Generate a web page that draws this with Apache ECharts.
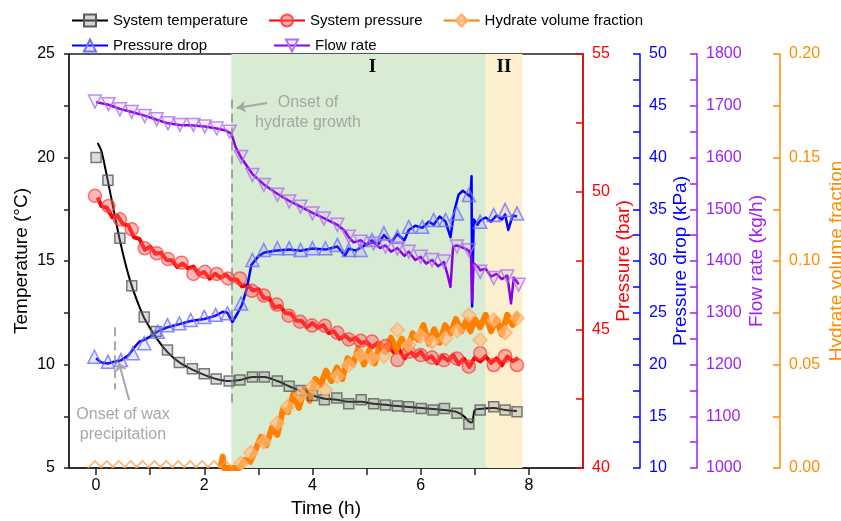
<!DOCTYPE html>
<html>
<head>
<meta charset="utf-8">
<script src="https://cdn.jsdelivr.net/npm/echarts@6/dist/echarts.min.js"></script>
<style>
html, body { margin: 0; padding: 0; background: #fff; }
#chart { width: 841px; height: 521px; }
</style>
</head>
<body>
<div id="chart"></div>
<script>
// ---- data (time in h) ----
// system temperature, markers
const tempTime = [0, 0.22, 0.44, 0.66, 0.89, 1.11, 1.32, 1.54, 1.78, 2.0, 2.22, 2.46, 2.66, 2.89, 3.11, 3.35, 3.57, 3.79, 4.0, 4.22, 4.45, 4.67, 4.9, 5.13, 5.35, 5.57, 5.78, 6.01, 6.23, 6.44, 6.67, 6.89, 7.1, 7.35, 7.56, 7.78]
const tempValue = [20.0, 18.9, 16.1, 13.8, 12.3, 11.6, 10.7, 10.1, 9.8, 9.55, 9.3, 9.2, 9.25, 9.4, 9.4, 9.2, 8.95, 8.75, 8.5, 8.3, 8.38, 8.1, 8.3, 8.1, 8.04, 8.0, 7.96, 7.87, 7.8, 7.87, 7.64, 7.13, 7.8, 7.96, 7.8, 7.72]
// system temperature, line
const tempLineTime = [0.03, 0.1, 0.2, 0.3, 0.44, 0.55, 0.66, 0.8, 0.9, 1.11, 1.32, 1.54, 1.78, 2.0, 2.22, 2.46, 2.66, 2.89, 3.11, 3.35, 3.57, 3.79, 4.0, 4.22, 4.45, 4.67, 4.9, 5.13, 5.35, 5.57, 5.78, 6.01, 6.23, 6.44, 6.67, 6.8, 6.89, 6.95, 7.0, 7.1, 7.35, 7.56, 7.78]
const tempLineValue = [20.7, 20.3, 19.1, 17.8, 16.0, 14.8, 13.8, 12.8, 12.2, 11.3, 10.6, 10.1, 9.75, 9.5, 9.3, 9.2, 9.25, 9.4, 9.4, 9.2, 8.95, 8.7, 8.5, 8.35, 8.3, 8.2, 8.2, 8.1, 8.05, 8.0, 7.95, 7.9, 7.85, 7.8, 7.7, 7.5, 7.25, 7.2, 7.8, 7.85, 7.9, 7.8, 7.75]

// system pressure (bar)
const presTime = [-0.02, 0.23, 0.44, 0.66, 0.9, 1.12, 1.33, 1.58, 1.8, 2.01, 2.23, 2.44, 2.66, 2.88, 3.1, 3.34, 3.56, 3.77, 3.99, 4.23, 4.46, 4.67, 4.89, 5.1, 5.35, 5.57, 5.78, 6.0, 6.21, 6.43, 6.67, 6.89, 7.1, 7.35, 7.56, 7.78]
const presValue = [49.86, 49.49, 49.01, 48.65, 47.96, 47.78, 47.57, 47.44, 47.03, 47.11, 47.03, 46.87, 46.87, 46.42, 46.25, 45.92, 45.52, 45.3, 45.16, 45.15, 44.9, 44.66, 44.61, 44.58, 44.42, 43.91, 44.21, 44.09, 44.0, 43.91, 43.97, 43.67, 44.16, 43.73, 44.06, 43.73]
const presLineTime = [0.03, 0.1, 0.2, 0.3, 0.4, 0.5, 0.6, 0.7, 0.8, 0.9, 1.0, 1.1, 1.2, 1.3, 1.4, 1.5, 1.6, 1.7, 1.8, 1.9, 2.0, 2.1, 2.2, 2.3, 2.4, 2.5, 2.6, 2.7, 2.8, 2.9, 3.0, 3.1, 3.2, 3.3, 3.4, 3.5, 3.6, 3.7, 3.8, 3.9, 4.0, 4.1, 4.2, 4.3, 4.4, 4.5, 4.6, 4.7, 4.8, 4.9, 5.0, 5.1, 5.2, 5.3, 5.4, 5.5, 5.6, 5.7, 5.8, 5.9, 6.0, 6.1, 6.2, 6.3, 6.4, 6.5, 6.6, 6.7, 6.8, 6.9, 7.0, 7.1, 7.2, 7.3, 7.4, 7.5, 7.6, 7.7, 7.8]
const presLineValue = [49.8, 49.49, 49.43, 49.08, 49.13, 48.83, 48.78, 48.36, 48.3, 47.91, 48.02, 47.76, 47.8, 47.54, 47.53, 47.28, 47.41, 47.23, 47.3, 47.01, 47.1, 46.86, 47.04, 46.89, 47.0, 46.82, 46.83, 46.58, 46.63, 46.43, 46.48, 46.16, 46.15, 45.81, 45.87, 45.61, 45.6, 45.34, 45.33, 45.1, 45.25, 45.08, 45.18, 44.89, 44.95, 44.68, 44.8, 44.63, 44.72, 44.52, 44.58, 44.38, 44.53, 44.38, 44.48, 44.19, 44.3, 43.97, 44.23, 44.04, 44.22, 43.94, 44.05, 43.79, 44.07, 43.89, 44.1, 43.76, 43.96, 43.66, 44.0, 43.86, 44.05, 43.81, 43.97, 43.72, 44.04, 43.87, 43.98]

// pressure drop (kPa)
const dropTime = [-0.03, 0.22, 0.46, 0.68, 0.89, 1.14, 1.32, 1.54, 1.75, 2.0, 2.21, 2.43, 2.68, 2.89, 3.1, 3.35, 3.57, 3.78, 4.0, 4.24, 4.46, 4.67, 4.89, 5.1, 5.32, 5.57, 5.78, 6.03, 6.24, 6.46, 6.67, 6.89, 7.1, 7.35, 7.56, 7.78]
const dropValue = [20.75, 20.27, 20.43, 21.08, 22.05, 23.17, 23.8, 23.98, 24.3, 24.6, 24.8, 24.95, 25.9, 30.1, 31.06, 31.23, 31.23, 31.06, 31.23, 31.23, 31.55, 31.06, 31.06, 32.03, 32.68, 32.35, 33.3, 33.3, 33.96, 33.96, 34.6, 36.38, 33.8, 34.44, 34.93, 34.6]
const dropLineTime = [0.0, 0.1, 0.22, 0.35, 0.46, 0.6, 0.7, 0.8, 0.9, 1.0, 1.14, 1.32, 1.54, 1.75, 2.0, 2.2, 2.35, 2.43, 2.52, 2.62, 2.7, 2.78, 2.87, 2.99, 3.1, 3.3, 3.57, 3.78, 4.0, 4.24, 4.46, 4.6, 4.67, 4.8, 4.89, 5.0, 5.1, 5.2, 5.32, 5.45, 5.57, 5.7, 5.78, 5.9, 6.03, 6.15, 6.24, 6.35, 6.46, 6.55, 6.62, 6.7, 6.78, 6.85, 6.92, 6.94, 6.95, 6.98, 7.05, 7.1, 7.2, 7.3, 7.4, 7.5, 7.56, 7.62, 7.7, 7.78]
const dropLineValue = [20.6, 20.2, 20.1, 20.3, 20.4, 20.9, 21.6, 22.2, 22.4, 22.7, 23.2, 23.6, 23.9, 24.2, 24.4, 24.7, 25.1, 25.0, 24.1, 25.0, 25.8, 27.2, 29.6, 30.4, 30.8, 31.0, 31.1, 31.0, 31.2, 31.1, 31.4, 30.5, 31.2, 31.0, 31.3, 31.6, 32.0, 31.5, 32.5, 31.8, 32.6, 32.0, 33.0, 33.4, 33.2, 33.8, 33.5, 34.3, 33.8, 32.3, 34.8, 36.4, 36.8, 36.5, 36.2, 38.2, 25.6, 34.0, 33.5, 33.9, 34.2, 33.8, 34.4, 34.0, 34.5, 33.0, 34.4, 34.3]

// flow rate (kg/h)
const flowTime = [-0.02, 0.23, 0.44, 0.66, 0.9, 1.12, 1.33, 1.55, 1.8, 2.01, 2.23, 2.47, 2.68, 2.89, 3.1, 3.35, 3.57, 3.78, 4.0, 4.21, 4.46, 4.67, 4.89, 5.13, 5.35, 5.57, 5.78, 6.0, 6.21, 6.43, 6.67, 6.89, 7.1, 7.35, 7.6, 7.81]
const flowValue = [1708, 1703, 1693, 1688, 1680, 1674, 1666, 1663, 1663, 1660, 1656, 1650, 1601, 1566, 1547, 1528, 1515, 1505, 1492, 1482, 1470, 1447, 1437, 1434, 1428, 1424, 1418, 1408, 1402, 1399, 1428, 1421, 1379, 1367, 1370, 1354]
const flowLineTime = [0.0, 0.23, 0.44, 0.66, 0.9, 1.12, 1.33, 1.55, 1.8, 2.01, 2.23, 2.4, 2.5, 2.58, 2.68, 2.89, 3.1, 3.35, 3.57, 3.78, 4.0, 4.21, 4.46, 4.6, 4.67, 4.76, 4.89, 5.0, 5.13, 5.25, 5.35, 5.45, 5.57, 5.7, 5.78, 5.9, 6.0, 6.1, 6.21, 6.32, 6.43, 6.5, 6.55, 6.6, 6.67, 6.8, 6.89, 6.93, 6.95, 6.98, 7.05, 7.1, 7.2, 7.3, 7.4, 7.5, 7.6, 7.67, 7.72, 7.81]
const flowLineValue = [1707, 1702, 1694, 1688, 1681, 1673, 1666, 1663, 1662, 1660, 1656, 1652, 1646, 1620, 1600, 1568, 1548, 1530, 1516, 1505, 1493, 1483, 1470, 1458, 1446, 1436, 1440, 1432, 1436, 1425, 1430, 1418, 1425, 1410, 1418, 1402, 1408, 1395, 1402, 1390, 1398, 1372, 1350, 1428, 1430, 1425, 1420, 1410, 1322, 1395, 1390, 1382, 1385, 1370, 1375, 1365, 1372, 1318, 1368, 1355]

// hydrate volume fraction
const hydTime = [-0.02, 0.2, 0.42, 0.64, 0.86, 1.08, 1.3, 1.52, 1.74, 1.96, 2.18, 2.4, 2.68, 2.86, 3.1, 3.35, 3.54, 3.78, 4.0, 4.24, 4.46, 4.67, 4.89, 5.1, 5.32, 5.57, 5.78, 6.0, 6.21, 6.46, 6.67, 6.89, 7.1, 7.35, 7.56, 7.78]
const hydValue = [0, 0, 0, 0, 0, 0, 0, 0, 0, 0, 0, 0, 0.0023, 0.0074, 0.0127, 0.0216, 0.0296, 0.0353, 0.0393, 0.0377, 0.0444, 0.0498, 0.0546, 0.053, 0.0541, 0.0667, 0.0594, 0.0638, 0.061, 0.0626, 0.0663, 0.0739, 0.0618, 0.0715, 0.0654, 0.0723]
const hydLineTime = [2.3, 2.34, 2.36, 2.5, 2.55, 2.65, 2.75, 2.85, 2.95, 3.05, 3.15, 3.25, 3.35, 3.45, 3.55, 3.65, 3.75, 3.85, 3.95, 4.05, 4.15, 4.25, 4.35, 4.45, 4.55, 4.65, 4.75, 4.85, 4.95, 5.05, 5.15, 5.25, 5.35, 5.45, 5.55, 5.65, 5.75, 5.85, 5.95, 6.05, 6.15, 6.25, 6.35, 6.45, 6.55, 6.65, 6.75, 6.85, 6.92, 7.0, 7.1, 7.2, 7.3, 7.4, 7.5, 7.6, 7.7, 7.8]
const hydLineValue = [0, 0.0055, 0, 0, 0, 0, 0.004, 0.003, 0.009, 0.015, 0.011, 0.0195, 0.016, 0.028, 0.027, 0.036, 0.029, 0.038, 0.0325, 0.043, 0.04, 0.047, 0.042, 0.0485, 0.043, 0.053, 0.05, 0.058, 0.05, 0.057, 0.0505, 0.06, 0.056, 0.063, 0.057, 0.0625, 0.057, 0.065, 0.062, 0.069, 0.06, 0.067, 0.0605, 0.069, 0.065, 0.072, 0.066, 0.0715, 0.066, 0.072, 0.068, 0.074, 0.066, 0.072, 0.0645, 0.074, 0.069, 0.075]

// stages and ticks
const stageI = [2.5, 7.2]
const stageII = [7.2, 7.88]
const xTicks = [0, 1, 2, 3, 4, 5, 6, 7, 8]
const xLabels = [0, 2, 4, 6, 8]

const zip = (a, b) => a.map((t, i) => [t, b[i]])

let chart = echarts.init(document.getElementById('chart'))

const font = 'Arial'
const gray = '#a6a6a6'

function rightAxis(name, color, min, max, interval, offset, nameGap, fmt) {
    return {
        type: 'value', position: 'right', offset: offset,
        min: min, max: max, interval: interval,
        name: name, nameLocation: 'middle', nameGap: nameGap, nameRotate: 90, nameMoveOverlap: false,
        nameTextStyle: {color: color, fontSize: 19, fontFamily: font},
        axisLine: {show: true, onZero: false, lineStyle: {color: color, width: 1.5}},
        axisTick: {show: true, inside: true, length: 7, lineStyle: {color: color, width: 1.5}},
        minorTick: {show: true, splitNumber: 2, length: 7, lineStyle: {color: color, width: 1.5}},
        axisLabel: {color: color, fontSize: 16, fontFamily: font, margin: 9, formatter: fmt || (v => String(v))},
        splitLine: {show: false}
    }
}

const lineSeries = (name, yIdx, data, color, width, symbol, size, itemStyle, extra) => Object.assign({
    name: name, type: 'line', yAxisIndex: yIdx, data: data,
    showSymbol: false, symbol: symbol, symbolSize: size,
    lineStyle: {color: color, width: width, join: 'round'}, itemStyle: itemStyle,
    z: 3, animation: false
}, extra || {})

const markSeries = (name, yIdx, data, symbol, size, itemStyle, rotate) => ({
    name: name, type: 'scatter', yAxisIndex: yIdx, data: data,
    symbol: symbol, symbolSize: size, symbolRotate: rotate || 0,
    itemStyle: itemStyle, z: 4, animation: false
})

const tempStyle = {color: 'rgba(150,150,150,0.4)', borderColor: '#5a5a5a', borderWidth: 1.5}
const presStyle = {color: 'rgba(255,95,95,0.55)', borderColor: 'rgba(255,60,60,0.9)', borderWidth: 1.5}
const dropStyle = {color: 'rgba(120,120,255,0.2)', borderColor: '#6f6fff', borderWidth: 1.5}
const flowStyle = {color: 'rgba(190,120,255,0.15)', borderColor: '#b070f0', borderWidth: 1.5}
const hydStyle = {color: 'rgba(255,190,130,0.8)', borderColor: '#ffad66', borderWidth: 1.5}

// zero-level hydrate markers are cut by the axis: only the upper half shows
const hydMarks = zip(hydTime, hydValue).map(p => p[1] === 0
    ? {value: p, symbol: 'path://M0,10L10,0L20,10', symbolSize: [14, 7], symbolOffset: [0, '-50%'],
       itemStyle: {color: 'rgba(0,0,0,0)', borderColor: '#ffa050', borderWidth: 1.5}}
    : p)

let option = {
    backgroundColor: '#fff',
    animation: false,
    grid: {left: 69, right: 258, top: 54, bottom: 53, outerBoundsMode: 'none', containLabel: false,
           show: true, borderColor: '#222', borderWidth: 1.5, backgroundColor: 'transparent'},
    legend: [
        {left: 66, top: 8, itemGap: 20, itemWidth: 36, itemHeight: 15, lineStyle: {width: 2},
         textStyle: {fontSize: 15, fontFamily: font, color: '#000'},
         data: ['System temperature', 'System pressure', 'Hydrate volume fraction']},
        {left: 66, top: 33, itemWidth: 36, itemHeight: 15, lineStyle: {width: 2},
         textStyle: {fontSize: 15, fontFamily: font, color: '#000'}, data: ['Pressure drop']},
        {left: 268, top: 33, itemWidth: 36, itemHeight: 15, lineStyle: {width: 2},
         textStyle: {fontSize: 15, fontFamily: font, color: '#000'}, data: ['Flow rate']}
    ],
    xAxis: {
        type: 'value', min: -0.5, max: 9,
        name: 'Time (h)', nameLocation: 'middle', nameGap: 28,
        nameTextStyle: {color: '#000', fontSize: 19, fontFamily: font},
        axisLine: {onZero: false, lineStyle: {color: '#222', width: 1.5}},
        axisTick: {show: true, length: 7, customValues: xTicks, lineStyle: {color: '#222', width: 1.5}},
        axisLabel: {customValues: xLabels, color: '#000', fontSize: 16, fontFamily: font, margin: 10},
        splitLine: {show: false}
    },
    yAxis: [
        {
            type: 'value', position: 'left', min: 5, max: 25, interval: 5,
            name: 'Temperature (°C)', nameLocation: 'middle', nameGap: 38, nameRotate: 90, nameMoveOverlap: false,
            nameTextStyle: {color: '#000', fontSize: 19, fontFamily: font},
            axisLine: {show: true, onZero: false, lineStyle: {color: '#222', width: 1.5}},
            axisTick: {show: true, length: 5, lineStyle: {color: '#222', width: 1.5}},
            minorTick: {show: true, splitNumber: 2, length: 5, lineStyle: {color: '#222', width: 1.5}},
            axisLabel: {color: '#000', fontSize: 16, fontFamily: font, margin: 14},
            splitLine: {show: false}
        },
        rightAxis('Pressure (bar)', '#ff0000', 40, 55, 5, 0, 31),
        rightAxis('Pressure drop (kPa)', '#0000ff', 10, 50, 5, 57, 31),
        rightAxis('Flow rate (kg/h)', '#a020f0', 1000, 1800, 100, 114, 50),
        rightAxis('Hydrate volume fraction', '#ff8c00', 0, 0.2, 0.05, 197, 47, v => v.toFixed(2))
    ],
    series: [
        {
            type: 'line', data: [], z: 1, silent: true,
            markArea: {
                silent: true,
                label: {show: true, position: 'insideTop', distance: 4, color: '#000',
                        fontFamily: 'Liberation Serif', fontWeight: 'bold', fontSize: 19},
                data: [
                    [{name: 'I', xAxis: stageI[0], itemStyle: {color: '#d8ebd3'}, label: {offset: [14, 0]}}, {xAxis: stageI[1]}],
                    [{name: 'II', xAxis: stageII[0], itemStyle: {color: '#fcefcd'}}, {xAxis: stageII[1]}]
                ]
            },
            markLine: {
                silent: true, symbol: 'none', label: {show: false},
                lineStyle: {color: '#8c8c8c', type: [9, 5], width: 1.5},
                data: [
                    [{coord: [2.5, 22.8]}, {coord: [2.5, 8.0]}],
                    [{coord: [0.34, 11.8]}, {coord: [0.34, 8.8]}],
                    [{coord: [3.16, 22.63], symbol: 'none', lineStyle: {type: 'solid', color: gray, width: 2}},
                     {coord: [2.6, 22.39], symbol: 'arrow', symbolSize: 9}],
                    [{coord: [0.61, 8.29], symbol: 'none', lineStyle: {type: 'solid', color: gray, width: 2}},
                     {coord: [0.42, 10.12], symbol: 'arrow', symbolSize: 9}]
                ]
            }
        },
        lineSeries('System temperature', 0, zip(tempLineTime, tempLineValue), '#000', 2, 'rect', 11, tempStyle, {smooth: 0.3}),
        markSeries('System temperature', 0, zip(tempTime, tempValue), 'rect', 10, tempStyle),
        lineSeries('System pressure', 1, zip(presLineTime, presLineValue), '#ff0000', 4, 'circle', 13, presStyle),
        markSeries('System pressure', 1, zip(presTime, presValue), 'circle', 13, presStyle),
        lineSeries('Pressure drop', 2, zip(dropLineTime, dropLineValue), '#0000ff', 2.5, 'triangle', 13, dropStyle),
        markSeries('Pressure drop', 2, zip(dropTime, dropValue), 'triangle', 13, dropStyle),
        lineSeries('Flow rate', 3, zip(flowLineTime, flowLineValue), '#8a00e6', 2.5, 'triangle', 13, flowStyle, {symbolRotate: 180}),
        markSeries('Flow rate', 3, zip(flowTime, flowValue), 'triangle', 13, flowStyle, 180),
        lineSeries('Hydrate volume fraction', 4, zip(hydLineTime, hydLineValue), '#ff8000', 6, 'diamond', 14, hydStyle),
        markSeries('Hydrate volume fraction', 4, hydMarks, 'diamond', 14, hydStyle)
    ],
    graphic: [
        {type: 'text', style: {text: 'Onset of\nhydrate growth', x: 308, y: 93, align: 'center',
            font: '16px Arial', fill: gray, lineHeight: 20}, z: 10},
        {type: 'text', style: {text: 'Onset of wax\nprecipitation', x: 123, y: 405, align: 'center',
            font: '16px Arial', fill: gray, lineHeight: 20}, z: 10}
    ]
}

chart.setOption(option)
</script>
</body>
</html>
